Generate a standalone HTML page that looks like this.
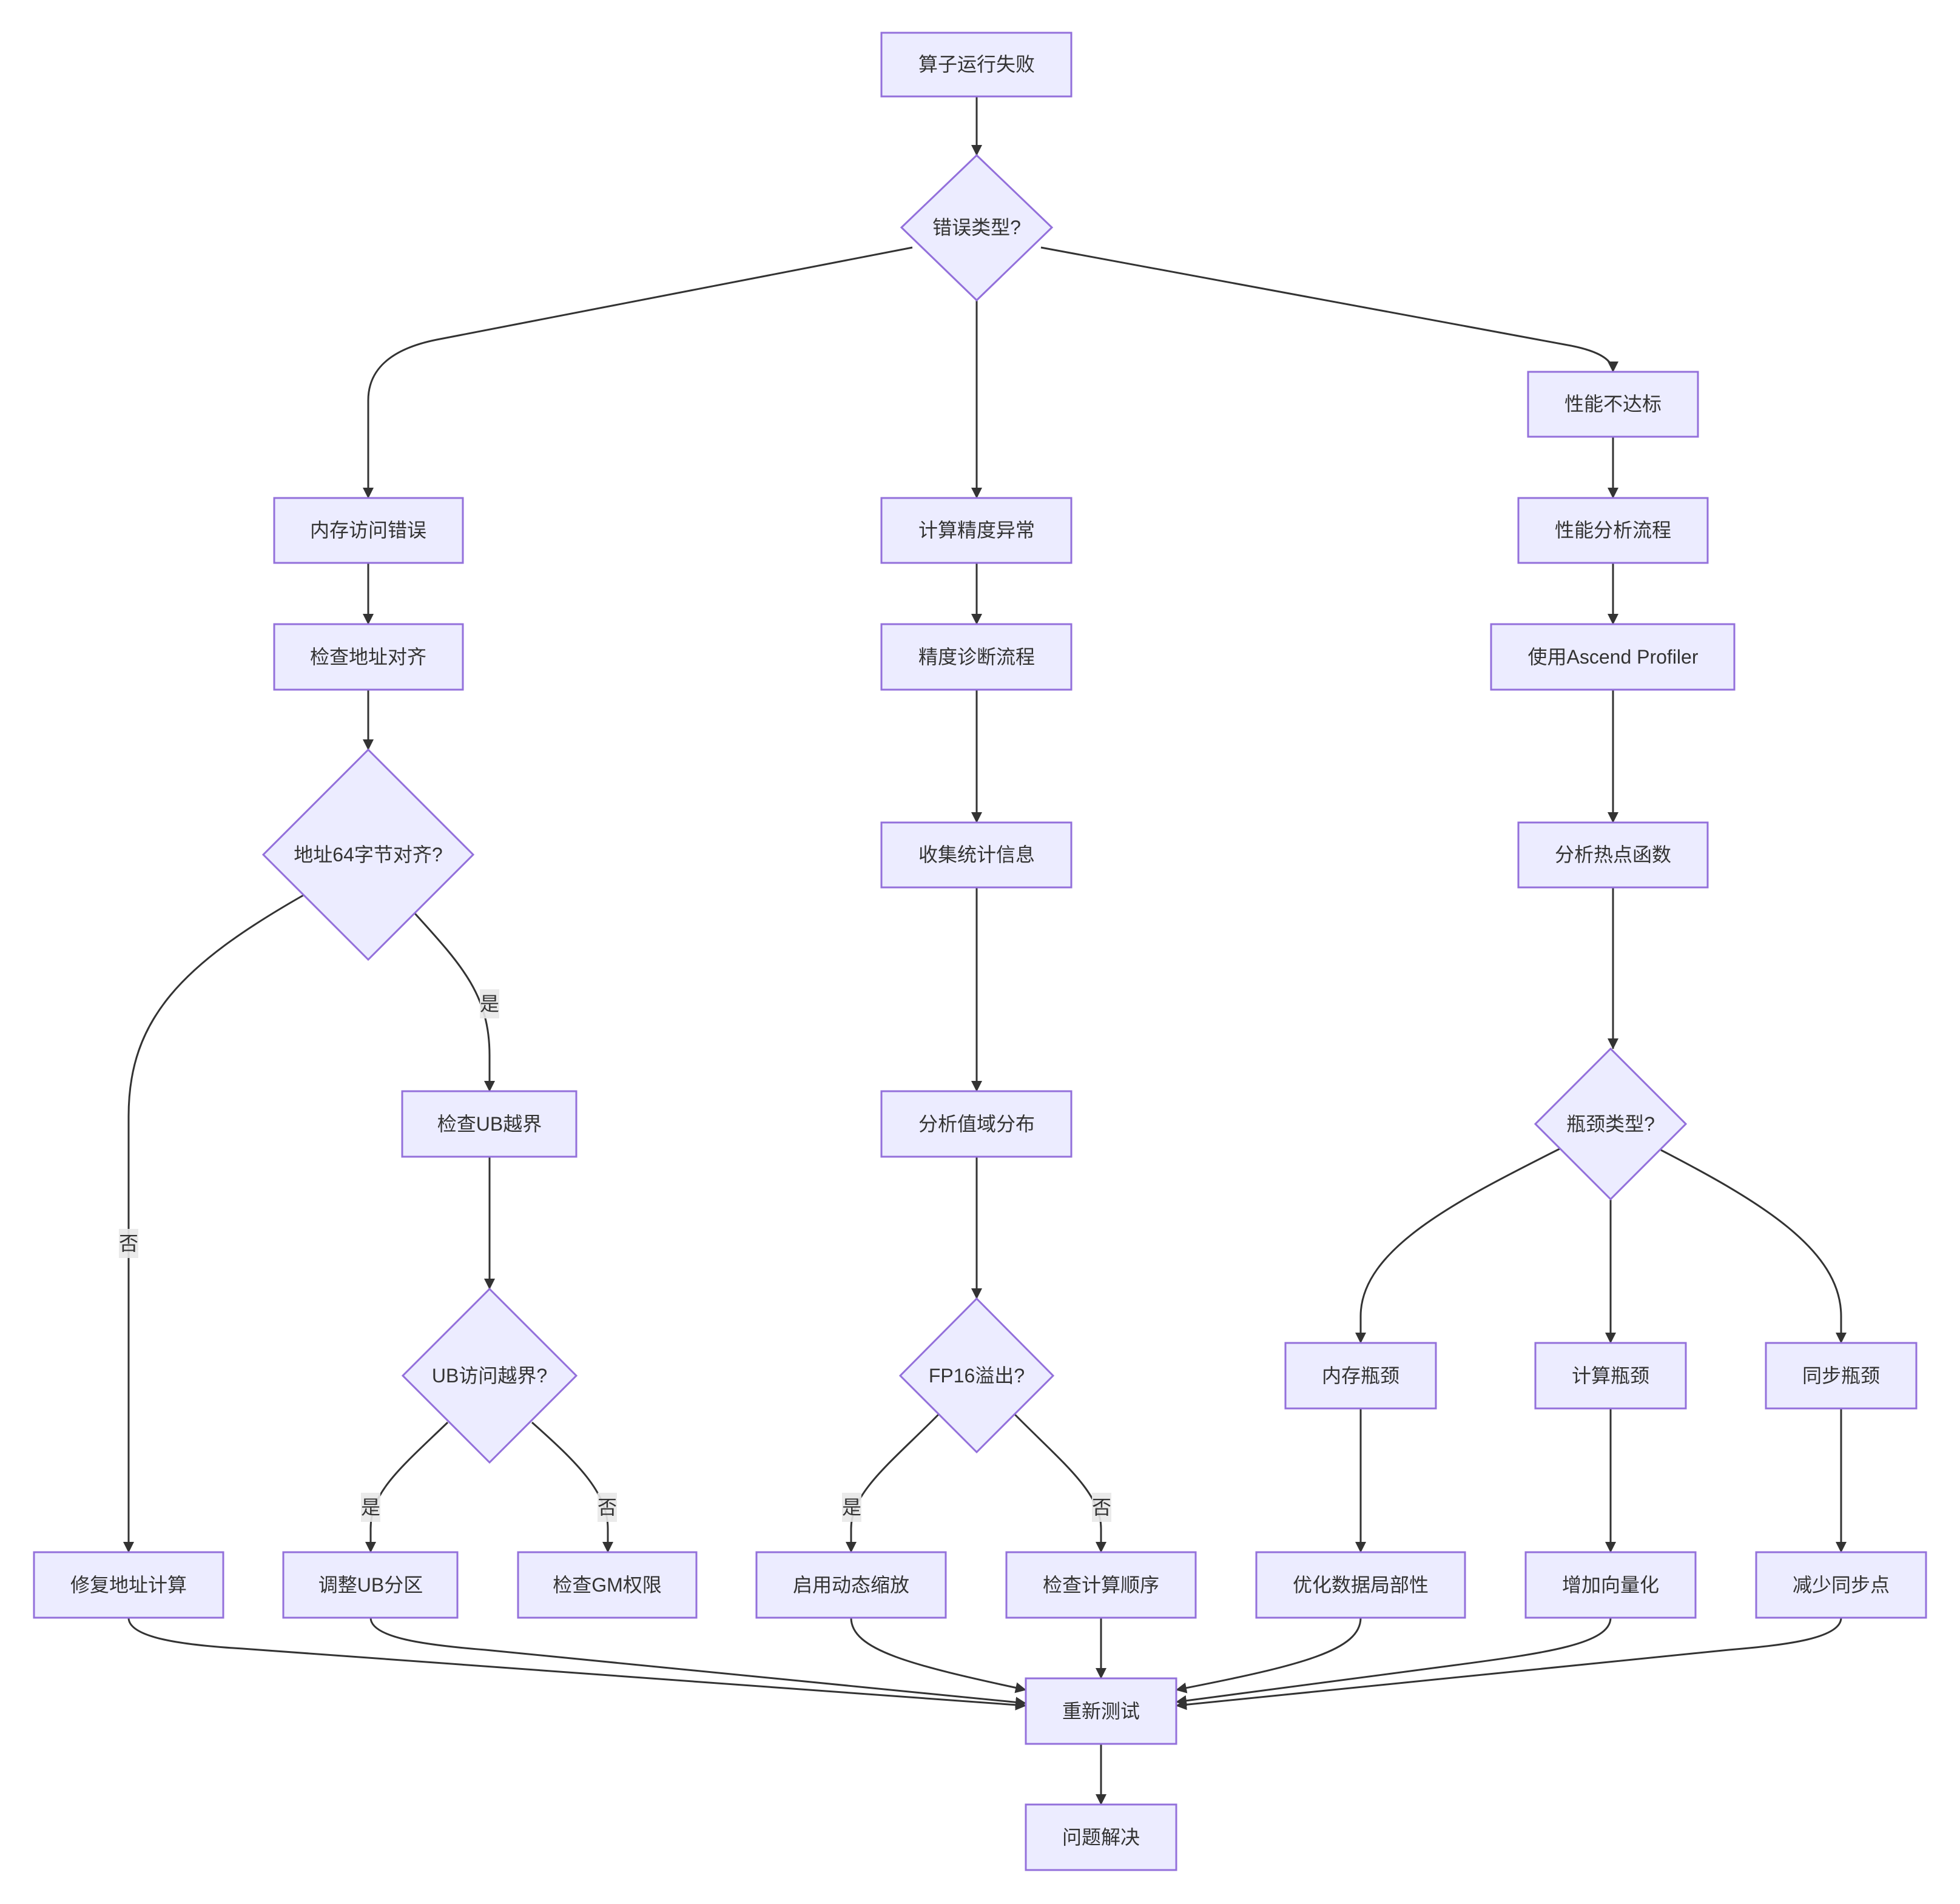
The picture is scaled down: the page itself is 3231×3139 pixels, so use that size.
<!DOCTYPE html>
<html><head><meta charset="utf-8"><style>
html,body{margin:0;padding:0;background:#fff;}
svg{display:block;}
text{font-family:"Liberation Sans","Noto Sans CJK SC",sans-serif;font-size:32px;fill:#333;text-anchor:middle;dominant-baseline:central;}
.n{fill:#ECECFF;stroke:#9370DB;stroke-width:3;}
.e{fill:none;stroke:#333;stroke-width:3;}
.lb{fill:#e8e8e8;opacity:0.9;}
</style></head><body>
<svg width="3231" height="3139" viewBox="0 0 3231 3139" xmlns="http://www.w3.org/2000/svg">
<defs><marker id="a" markerUnits="userSpaceOnUse" markerWidth="18" markerHeight="18" refX="17" refY="9" orient="auto"><path d="M0,0 L18,9 L0,18 z" fill="#333"/></marker></defs>

<g marker-end="url(#a)">
<path class="e" d="M1610,159 L1610,256"/>
<path class="e" d="M1504,408 L720,560 C630,578 607,620 607,660 L607,821"/>
<path class="e" d="M1610,495 L1610,821"/>
<path class="e" d="M1716,408 L2590,570 C2640,580 2659,595 2659,613"/>
<path class="e" d="M607,928 L607,1029"/>
<path class="e" d="M1610,928 L1610,1029"/>
<path class="e" d="M2659,720 L2659,821"/>
<path class="e" d="M2659,928 L2659,1029"/>
<path class="e" d="M607,1137 L607,1236"/>
<path class="e" d="M1610,1137 L1610,1356"/>
<path class="e" d="M2659,1137 L2659,1356"/>
<path class="e" d="M1610,1463 L1610,1799"/>
<path class="e" d="M2659,1463 L2659,1729"/>
<path class="e" d="M1610,1908 L1610,2141"/>
<path class="e" d="M500,1476 C300,1590 212,1680 212,1840 L212,2559"/>
<path class="e" d="M684,1506 C760,1590 807,1640 807,1740 L807,1799"/>
<path class="e" d="M807,1908 L807,2125"/>
<path class="e" d="M738,2345 C660,2420 611,2460 611,2520 L611,2559"/>
<path class="e" d="M877,2345 C950,2410 1002,2460 1002,2520 L1002,2559"/>
<path class="e" d="M1547,2332 C1470,2410 1403,2460 1403,2520 L1403,2559"/>
<path class="e" d="M1673,2332 C1750,2410 1815,2460 1815,2520 L1815,2559"/>
<path class="e" d="M2571,1894 C2400,1980 2243,2060 2243,2170 L2243,2214"/>
<path class="e" d="M2655,1978 L2655,2214"/>
<path class="e" d="M2738,1896 C2900,1980 3035,2060 3035,2170 L3035,2214"/>
<path class="e" d="M2243,2322 L2243,2559"/>
<path class="e" d="M2655,2322 L2655,2559"/>
<path class="e" d="M3035,2322 L3035,2559"/>
<path class="e" d="M212,2667 C212,2700 300,2712 400,2718 L1691,2812"/>
<path class="e" d="M611,2667 C611,2700 700,2712 800,2720 L1691,2808"/>
<path class="e" d="M1403,2667 C1403,2720 1500,2745 1691,2786"/>
<path class="e" d="M1815,2667 L1815,2767"/>
<path class="e" d="M2243,2667 C2243,2720 2150,2745 1939,2786"/>
<path class="e" d="M2655,2667 C2655,2710 2550,2725 2400,2745 L1939,2806"/>
<path class="e" d="M3035,2667 C3035,2700 2950,2712 2850,2720 L1939,2812"/>
<path class="e" d="M1815,2875 L1815,2975"/>
</g>

<!-- edge labels -->
<rect class="lb" x="196" y="2026" width="32" height="48"/><text x="212" y="2050">否</text>
<rect class="lb" x="791" y="1631" width="32" height="48"/><text x="807" y="1655">是</text>
<rect class="lb" x="595" y="2461" width="32" height="48"/><text x="611" y="2485">是</text>
<rect class="lb" x="985" y="2461" width="32" height="48"/><text x="1001" y="2485">否</text>
<rect class="lb" x="1388" y="2461" width="32" height="48"/><text x="1404" y="2485">是</text>
<rect class="lb" x="1800" y="2461" width="32" height="48"/><text x="1816" y="2485">否</text>

<!-- nodes -->
<rect class="n" x="1453" y="54" width="313" height="105"/><text x="1610" y="106">算子运行失败</text>
<polygon class="n" points="1610,256 1734,375 1610,495 1486,375"/><text x="1610" y="375">错误类型?</text>
<rect class="n" x="452" y="821" width="311" height="107"/><text x="607" y="874">内存访问错误</text>
<rect class="n" x="1453" y="821" width="313" height="107"/><text x="1610" y="874">计算精度异常</text>
<rect class="n" x="2519" y="613" width="280" height="107"/><text x="2659" y="666">性能不达标</text>
<rect class="n" x="2503" y="821" width="312" height="107"/><text x="2659" y="874">性能分析流程</text>
<rect class="n" x="452" y="1029" width="311" height="108"/><text x="607" y="1083">检查地址对齐</text>
<rect class="n" x="1453" y="1029" width="313" height="108"/><text x="1610" y="1083">精度诊断流程</text>
<rect class="n" x="2458" y="1029" width="401" height="108"/><text x="2659" y="1083">使用Ascend Profiler</text>
<polygon class="n" points="607,1236 780,1409 607,1582 434,1409"/><text x="607" y="1409">地址64字节对齐?</text>
<rect class="n" x="1453" y="1356" width="313" height="107"/><text x="1610" y="1409">收集统计信息</text>
<rect class="n" x="2503" y="1356" width="312" height="107"/><text x="2659" y="1409">分析热点函数</text>
<rect class="n" x="663" y="1799" width="287" height="108"/><text x="807" y="1853">检查UB越界</text>
<rect class="n" x="1453" y="1799" width="313" height="108"/><text x="1610" y="1853">分析值域分布</text>
<polygon class="n" points="2655,1729 2779,1853 2655,1977 2531,1853"/><text x="2655" y="1853">瓶颈类型?</text>
<polygon class="n" points="807,2125 950,2268 807,2411 664,2268"/><text x="807" y="2268">UB访问越界?</text>
<polygon class="n" points="1610,2141 1736,2268 1610,2394 1484,2268"/><text x="1610" y="2268">FP16溢出?</text>
<rect class="n" x="2119" y="2214" width="248" height="108"/><text x="2243" y="2268">内存瓶颈</text>
<rect class="n" x="2531" y="2214" width="248" height="108"/><text x="2655" y="2268">计算瓶颈</text>
<rect class="n" x="2911" y="2214" width="248" height="108"/><text x="3035" y="2268">同步瓶颈</text>
<rect class="n" x="56" y="2559" width="312" height="108"/><text x="212" y="2613">修复地址计算</text>
<rect class="n" x="467" y="2559" width="287" height="108"/><text x="611" y="2613">调整UB分区</text>
<rect class="n" x="854" y="2559" width="294" height="108"/><text x="1001" y="2613">检查GM权限</text>
<rect class="n" x="1247" y="2559" width="312" height="108"/><text x="1403" y="2613">启用动态缩放</text>
<rect class="n" x="1659" y="2559" width="312" height="108"/><text x="1815" y="2613">检查计算顺序</text>
<rect class="n" x="2071" y="2559" width="344" height="108"/><text x="2243" y="2613">优化数据局部性</text>
<rect class="n" x="2515" y="2559" width="280" height="108"/><text x="2655" y="2613">增加向量化</text>
<rect class="n" x="2895" y="2559" width="280" height="108"/><text x="3035" y="2613">减少同步点</text>
<rect class="n" x="1691" y="2767" width="248" height="108"/><text x="1815" y="2821">重新测试</text>
<rect class="n" x="1691" y="2975" width="248" height="108"/><text x="1815" y="3029">问题解决</text>
</svg>
</body></html>
